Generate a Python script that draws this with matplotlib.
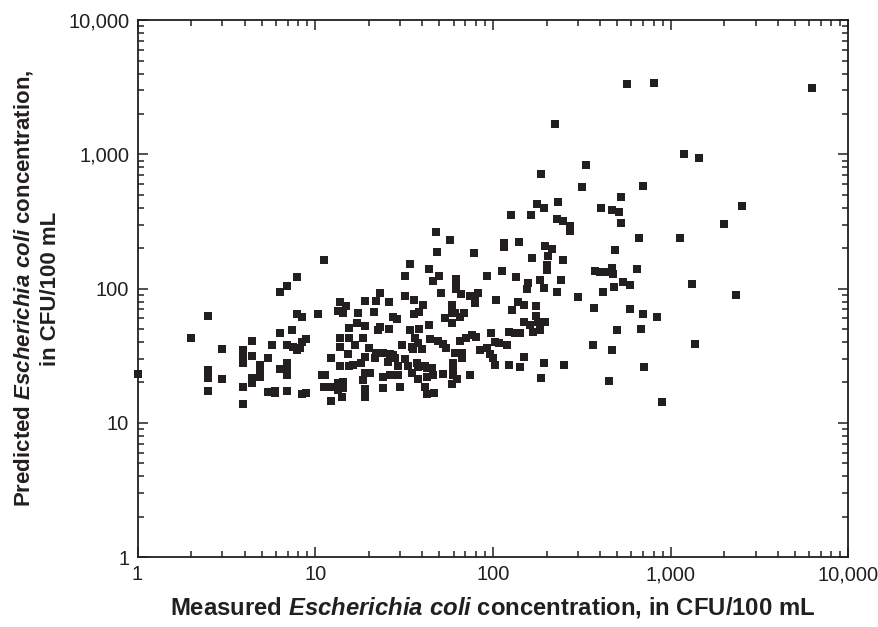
import matplotlib
matplotlib.use("Agg")
import matplotlib.pyplot as plt
from matplotlib import font_manager
from matplotlib.ticker import FixedLocator, FuncFormatter, LogLocator, NullFormatter

# ---- data: measured vs predicted E. coli (CFU/100 mL) ----
measured = [
    1.0, 2.0, 2.5, 2.5, 2.5, 2.5, 3.0, 3.0, 3.9, 3.9, 3.9, 3.9, 3.9, 4.4, 4.4, 4.4, 4.4,
    11.2, 7.86, 6.96, 6.36, 13.8, 14.8, 19.1, 7.86, 8.39, 10.3, 13.4, 14.3, 17.5, 15.5, 17.2, 19.1,
    6.36, 7.43, 5.73, 6.96, 7.52, 8.39, 8.84, 8.21, 7.86, 13.8, 15.5, 18.5, 13.8, 16.7, 15.2, 20.0,
    5.44, 4.9, 4.9, 4.9, 6.96, 6.96, 6.33, 6.96, 12.2, 13.8, 15.5, 16.4, 18.0, 19.05, 19.05, 10.9,
    11.3, 18.5, 11.2, 12.1, 13.5, 14.4, 13.5, 14.4, 14.1, 12.2, 19.05, 19.05, 5.44, 5.94, 5.94, 6.96,
    8.39, 8.84,
    57.3, 48.2, 77.9, 34.1, 43.6, 32.0, 49.9, 45.8, 61.9, 61.9, 23.1, 21.9, 26.0, 32.0, 35.9, 50.8,
    61.9, 65.8, 74.3, 79.2, 79.2, 82.7, 40.5, 38.3, 36.1, 21.5, 58.6, 58.6, 61.1, 53.7, 58.6, 65.2,
    68.7, 27.5, 28.9, 22.5, 23.1, 26.0, 34.1, 38.5, 43.5, 65.2, 70.5, 75.9, 80.2, 36.4, 38.0, 44.2,
    49.2, 52.5, 54.4, 30.6, 34.9, 35.6, 39.7, 21.9, 61.1, 66.7, 66.7, 84.5, 21.7, 24.1, 26.3, 27.5,
    25.8, 28.1, 32.0, 33.4, 34.9, 37.2, 38.0, 41.4, 42.4, 45.2, 29.3, 29.3, 59.3, 59.3, 59.3, 52.5,
    20.3, 24.1, 26.3, 38.0, 42.4, 46.2, 63.0, 58.6, 74.3, 24.0, 30.0, 41.4, 42.4, 46.6, 47.6,
    115.8, 115.8, 139.5, 196.9, 213.9, 203.2, 165.7, 246.6, 200.6, 200.6, 375, 111.9, 92.5, 135.2,
    157.9, 154.7, 183.8, 193.6, 242.3, 230, 302, 104.4, 137.7, 150, 174.6, 127.9, 371.5, 174.6,
    179.8, 196.1, 150, 161.5, 183.8, 168.5, 123.5, 133, 141.9, 97.5, 102.6, 108.5, 119.4, 92.2,
    96.2, 99.6, 102.6, 366.7, 149.4, 123.5, 141.9, 193.6, 250.8, 186.2,
    222.3, 335, 186.9, 318, 233, 177.5, 193.6, 126.3, 163, 230, 246.6, 271.2, 271.2,
    569.6, 805, 1192, 1442, 701, 522.9, 405.2, 465.4, 513.4, 522.9, 665, 1127, 485.8,
    400, 432.3, 465.4, 475.2, 643, 540.8, 589.8, 481.4, 417.4, 1322, 589.8, 701, 833.7, 496.6,
    677.5, 465.4, 1369, 710, 449.5, 889,
    6209, 2527, 1993, 2329,
]
predicted = [
    23.0, 42.8, 62.8, 24.7, 21.6, 17.2, 35.7, 21.2, 34.9, 32.0, 27.8, 18.5, 13.7, 40.7, 31.3, 21.5, 19.7,
    163.4, 121.4, 104.0, 94.3, 79.1, 73.8, 80.8, 64.7, 61.1, 64.7, 67.7, 66.1, 66.1, 51.1, 55.1, 52.6,
    46.9, 49.1, 38.0, 38.0, 36.9, 40.2, 41.9, 35.9, 34.9, 42.6, 42.6, 42.6, 36.5, 38.0, 32.6, 35.9,
    30.6, 27.0, 24.0, 22.1, 27.8, 25.7, 25.0, 22.7, 30.2, 26.5, 26.5, 27.0, 27.8, 30.8, 23.6, 22.7,
    22.7, 20.8, 18.6, 18.6, 19.7, 20.2, 17.6, 18.1, 15.5, 14.6, 17.8, 15.5, 17.0, 17.3, 16.6, 17.3,
    16.3, 16.6,
    230, 186, 183, 152.5, 139.3, 124.8, 124.8, 113.3, 117.9, 109.5, 92.3, 80.8, 79.1, 88.5, 82.2, 92.3,
    98.8, 91.1, 88.1, 82.2, 77.7, 92.3, 75.5, 67.3, 64.7, 67.3, 75.5, 66.1, 66.1, 60.1, 55.1, 61.7,
    66.1, 61.1, 59.7, 49.1, 51.4, 50.0, 49.1, 50.0, 53.6, 40.9, 42.6, 45.1, 43.8, 42.6, 39.1, 41.9,
    40.9, 38.7, 35.9, 38.0, 36.9, 35.3, 35.3, 33.0, 33.0, 33.0, 30.2, 34.9, 30.2, 33.0, 32.4, 32.0,
    28.5, 30.2, 29.7, 26.5, 23.6, 27.8, 25.9, 26.5, 25.5, 25.5, 26.5, 22.7, 27.8, 25.0, 22.7, 23.1,
    23.6, 22.1, 22.7, 21.1, 22.1, 22.7, 21.1, 19.5, 22.7, 18.1, 18.6, 18.6, 16.3, 16.8, 264.2,
    217.6, 205.2, 221.3, 208.8, 196.3, 175.9, 168.2, 163.4, 150, 137.6, 135.9, 135.9, 124.8, 121.4,
    110.6, 98.8, 115.9, 101, 115.9, 94.3, 86.6, 82.2, 79.1, 75.5, 74.2, 68.9, 72.0, 62.5,
    56.4, 56.4, 56.4, 53.6, 49.1, 47.7, 47.7, 46.4, 46.4, 46.7, 40.2, 39.1, 38.0, 35.9,
    32.6, 30.2, 27.1, 38.0, 31.1, 27.1, 25.9, 27.8, 27.1, 21.7,
    1693, 838, 714, 568.6, 444, 425, 396.6, 353.5, 353.5, 330, 320.6, 294.2, 268.7,
    3347, 3422, 1002, 935, 581, 484, 396.6, 385.2, 370.3, 306.6, 239.4, 239.4, 194,
    133.6, 133.6, 141.7, 127.8, 139.3, 112.6, 106.4, 103.3, 94.8, 108.2, 70.5, 64.7, 61.4, 48.9,
    50.0, 34.9, 38.9, 25.9, 20.6, 14.3,
    3108, 414.7, 301.4, 90.1,
]
tick_values = [1, 10, 100, 1000, 10000]
x_label = r"Measured $\mathit{Escherichia\ coli}$ concentration, in CFU/100 mL"
y_label = ("Predicted $\\mathit{Escherichia\\ coli}$ concentration,\n"
           "in CFU/100 mL")

# ---- fonts ----
avail = {f.name for f in font_manager.fontManager.ttflist}
base = "Liberation Sans Narrow" if "Liberation Sans Narrow" in avail else "Liberation Sans"
plt.rcParams["font.family"] = [base, "DejaVu Sans"]
plt.rcParams["mathtext.fontset"] = "custom"
plt.rcParams["mathtext.it"] = f"{base}:italic:bold"
plt.rcParams["mathtext.rm"] = f"{base}:bold"
plt.rcParams["mathtext.bf"] = f"{base}:bold"

ink = "#231f20"
fig = plt.figure(figsize=(8.79, 6.27), dpi=100)
ax = fig.add_axes([0.15643, 0.11164, 0.80887, 0.8561])

ax.scatter(measured, predicted, marker="s", s=29, c=ink, linewidths=0, zorder=3, clip_on=False)

ax.set_xscale("log")
ax.set_yscale("log")
ax.set_xlim(1, 10000)
ax.set_ylim(1, 10000)

fmt = FuncFormatter(lambda v, p: f"{v:,.0f}")
for axis in (ax.xaxis, ax.yaxis):
    axis.set_major_locator(FixedLocator(tick_values))
    axis.set_major_formatter(fmt)
    axis.set_minor_locator(LogLocator(base=10, subs=range(2, 10), numticks=20))
    axis.set_minor_formatter(NullFormatter())

ax.tick_params(which="both", direction="in", top=True, right=True, width=1.1, colors=ink)
ax.tick_params(which="major", length=7.5, labelsize=14.5, pad=6)
ax.tick_params(which="minor", length=4)
for s in ax.spines.values():
    s.set_linewidth(1.3)
    s.set_color(ink)

ax.set_xlabel(x_label, fontsize=17.2, fontweight="bold", labelpad=8, color=ink)
ax.set_ylabel(y_label, fontsize=16, fontweight="bold", labelpad=5, color=ink, linespacing=1.3)

fig.savefig("out.png", dpi=100)
